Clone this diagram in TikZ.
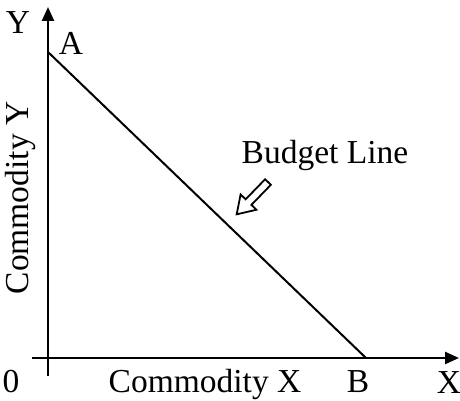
\documentclass[tikz,border=0pt]{standalone}
\usepackage{fontspec}
\setmainfont{Liberation Serif}
\usetikzlibrary{arrows.meta}
\begin{document}
\begin{tikzpicture}[x=1pt,y=1pt,
  lbl/.style={inner sep=0pt, font=\fontsize{33.5}{36}\selectfont},
  axis/.style={line width=2.4pt, -{Triangle[length=14pt,width=12pt]}},
  budget/.style={line width=2pt}]
\useasboundingbox (0,0) rectangle (460,400);
\coordinate (ybot) at (48,24);
\coordinate (ytop) at (48,393);
\coordinate (xleft) at (32,42);
\coordinate (xright) at (459,42);
\coordinate (A) at (48,348);
\coordinate (B) at (366,42);
\draw[axis] (ybot) -- (ytop);
\draw[axis] (xleft) -- (xright);
\draw[budget] (A) -- (B);
\node[lbl] (ylab) at (18,377) {Y};
\node[lbl] (alab) at (71,357) {A};
\node[lbl] (blab) at (358,18) {B};
\node[lbl] (xlab) at (449,17) {X};
\node[lbl] (zero) at (11,18) {0};
\node[lbl] (cx) at (205,16) {Commodity X};
\node[lbl, rotate=90] (cy) at (20,202) {Commodity Y};
\node[lbl] (bl) at (325,245) {Budget Line};
\begin{scope}[shift={(268,218)}, rotate=225.9]
\draw[line width=1.8pt, line join=miter] (0,4) -- (28,4) -- (28,11) -- (45,0) -- (28,-11) -- (28,-4) -- (0,-4) -- cycle;
\end{scope}
\end{tikzpicture}
\end{document}
